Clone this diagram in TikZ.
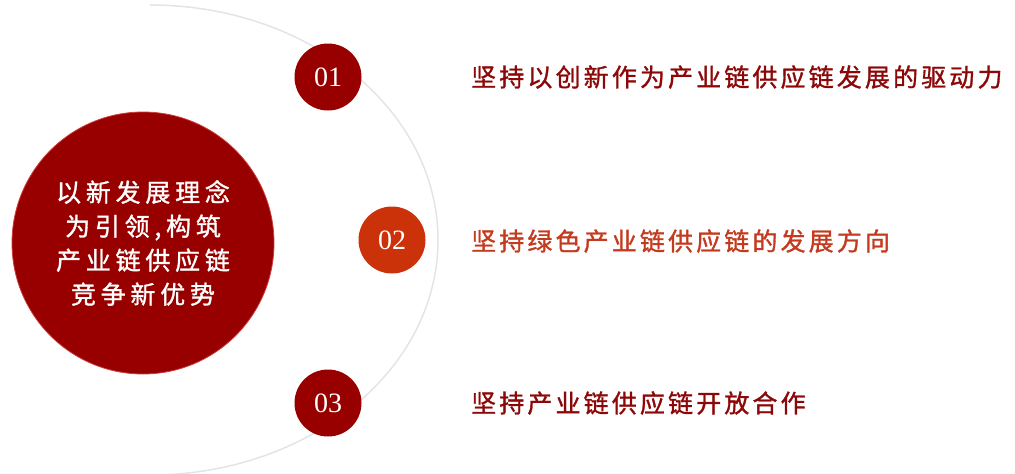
\documentclass[tikz,border=0pt]{standalone}
\usepackage{fontspec}
\newfontfamily\cjkbig[LetterSpace=19,FakeBold=1.2]{Noto Sans CJK SC}
\newfontfamily\cjkline[LetterSpace=12.5,FakeBold=1.2]{Noto Sans CJK SC}
\newfontfamily\numf{Liberation Serif}
\definecolor{deepred}{RGB}{152,0,0}
\definecolor{orangered}{RGB}{204,50,10}
\definecolor{textred}{RGB}{140,8,8}
\definecolor{textorange}{RGB}{196,58,30}
\definecolor{arcgray}{RGB}{228,228,228}
\definecolor{edgepink}{RGB}{205,60,60}
\tikzset{
  bigc/.style={circle, fill=deepred, draw=edgepink, line width=0.8pt, minimum size=262pt, inner sep=0pt,
    text=white, align=center, font=\cjkbig\fontsize{25}{34}\selectfont},
  numc/.style={circle, minimum size=67pt, inner sep=0pt, text=white, font=\numf\fontsize{28}{28}\selectfont},
  itemtxt/.style={anchor=west, inner sep=0pt, font=\cjkline\fontsize{25}{30}\selectfont}
}
\begin{document}
\begin{tikzpicture}[x=1pt,y=-1pt]
\useasboundingbox (0,0) rectangle (1015,474);
\coordinate (ec) at (150,240);
\draw[arcgray, line width=1.5pt] (ec) ++(90:288 and 235) arc[start angle=90, end angle=-90, x radius=288, y radius=235];
\node[bigc] (core) at (143,243) {以新发展理念\\为引领,构筑\\产业链供应链\\竞争新优势};
\node[numc, fill=deepred] (n1) at (328,77) {01};
\node[numc, fill=orangered] (n2) at (392,240) {02};
\node[numc, fill=deepred] (n3) at (328,403) {03};
\node[itemtxt, text=textred] (t1) at (471,77) {坚持以创新作为产业链供应链发展的驱动力};
\node[itemtxt, text=textorange] (t2) at (471,241) {坚持绿色产业链供应链的发展方向};
\node[itemtxt, text=textred] (t3) at (471,403) {坚持产业链供应链开放合作};
\end{tikzpicture}
\end{document}
